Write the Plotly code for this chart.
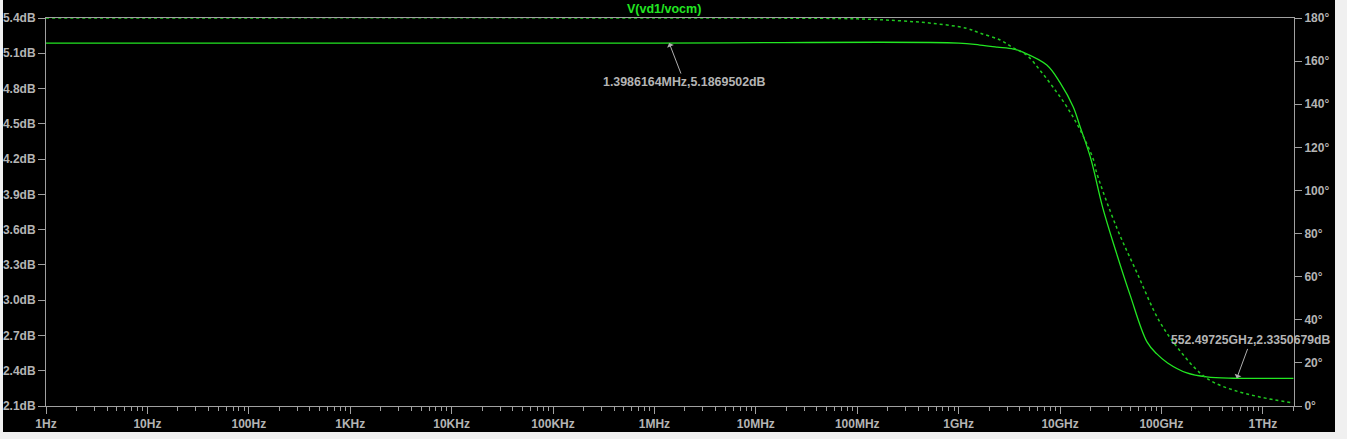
import plotly.graph_objects as go

# ---- data ----
mag_freq = [1, 1e6, 1e9, 1.62e9, 2.4e9, 3.47e9, 4.3e9, 7.4e9, 1.0e10, 1.35e10, 1.58e10,
            2.0e10, 2.63e10, 3.6e10, 4.9e10, 7.2e10, 9.0e10, 1.15e11, 1.78e11, 2.8e11,
            5.1e11, 1e12, 2e12]
mag_db = [5.187, 5.187, 5.187, 5.17, 5.153, 5.136, 5.11, 5.0, 4.85, 4.643, 4.473,
          4.21, 3.79, 3.40, 3.045, 2.645, 2.543, 2.466, 2.381, 2.347,
          2.336, 2.335, 2.335]

ph_freq = [1, 1e6, 1e8, 2.63e8, 5.6e8, 1.2e9, 1.62e9, 2.57e9, 3.47e9, 4.68e9, 6.3e9,
           8.5e9, 1.17e10, 1.58e10, 2.14e10, 2.3e10, 3.6e10, 5.75e10, 9.5e10, 1.5e11,
           2.4e11, 3.24e11, 5.1e11, 9.3e11, 2e12]
ph_deg = [180, 180, 179.6, 178.7, 177.5, 175.2, 173.0, 169.8, 166.1, 162.8, 155.9,
          148.0, 138.7, 128.0, 114.1, 108.1, 83.0, 61.7, 39.5, 26.0,
          15.3, 11.1, 7.4, 4.2, 1.4]

x_tickvals = [1, 10, 100, 1e3, 1e4, 1e5, 1e6, 1e7, 1e8, 1e9, 1e10, 1e11, 1e12]
x_ticktext = ["1Hz", "10Hz", "100Hz", "1KHz", "10KHz", "100KHz", "1MHz", "10MHz",
              "100MHz", "1GHz", "10GHz", "100GHz", "1THz"]
y_tickvals = [2.1, 2.4, 2.7, 3.0, 3.3, 3.6, 3.9, 4.2, 4.5, 4.8, 5.1, 5.4]
y_ticktext = ["2.1dB", "2.4dB", "2.7dB", "3.0dB", "3.3dB", "3.6dB", "3.9dB", "4.2dB",
              "4.5dB", "4.8dB", "5.1dB", "5.4dB"]
y2_tickvals = [0, 20, 40, 60, 80, 100, 120, 140, 160, 180]
y2_ticktext = ["0°", "20°", "40°", "60°", "80°", "100°", "120°", "140°", "160°", "180°"]

cursor1 = (1.3986164e6, 5.1869502, "1.3986164MHz,5.1869502dB")
cursor2 = (552.49725e9, 2.3350679, "552.49725GHz,2.3350679dB")
trace_name = "V(vd1/vocm)"

minor_vals = [m * 10 ** k for k in range(0, 13) for m in range(2, 10) if m * 10 ** k <= 2e12]

AX = "#a0a0a0"
LBL = "#b4b4b4"
FONT = "Liberation Sans"

fig = go.Figure()
fig.add_trace(go.Scatter(x=ph_freq, y=ph_deg, yaxis="y2", mode="lines",
                         line=dict(color="#1fc81f", width=1.5, dash="dot", shape="spline"),
                         showlegend=False, hoverinfo="skip"))
fig.add_trace(go.Scatter(x=mag_freq, y=mag_db, mode="lines",
                         line=dict(color="#22e622", width=1.3, shape="spline"),
                         showlegend=False, hoverinfo="skip"))

fig.update_layout(
    width=1347, height=439,
    margin=dict(l=46, r=53, t=18, b=33, autoexpand=False),
    paper_bgcolor="#f0f0f0", plot_bgcolor="#000000",
    font=dict(family=FONT, size=12, color=LBL),
    xaxis=dict(type="log", range=[0, 12.307], showgrid=False, zeroline=False,
               showline=True, linecolor=AX, linewidth=1, mirror=True,
               ticks="outside", ticklen=7, tickcolor=AX,
               tickmode="array", tickvals=x_tickvals, ticktext=x_ticktext,
               tickfont=dict(family=FONT, size=12, color=LBL, weight="bold"),
               minor=dict(tickmode="array", tickvals=minor_vals, ticks="outside",
                          ticklen=4, tickcolor=AX, showgrid=False)),
    yaxis=dict(range=[2.1, 5.4], showgrid=False, zeroline=False,
               showline=True, linecolor=AX, linewidth=1,
               ticks="outside", ticklen=7, tickcolor=AX,
               tickmode="array", tickvals=y_tickvals, ticktext=y_ticktext,
               tickfont=dict(family=FONT, size=12, color=LBL, weight="bold")),
    yaxis2=dict(range=[0, 180], overlaying="y", side="right", showgrid=False,
                zeroline=False, showline=True, linecolor=AX, linewidth=1,
                ticks="outside", ticklen=7, tickcolor=AX,
                tickmode="array", tickvals=y2_tickvals, ticktext=y2_ticktext,
                tickfont=dict(family=FONT, size=12, color=LBL, weight="bold")),
    shapes=[dict(type="rect", xref="paper", yref="paper", layer="below",
                 x0=(3 - 46) / 1248, x1=(1335 - 46) / 1248,
                 y0=(406 - 432) / 388, y1=(406 + 20) / 388,
                 fillcolor="#000000", line=dict(width=0))],
    annotations=[
        dict(xref="paper", yref="paper", x=(664 - 46) / 1248, y=(406 - 9) / 388,
             text=trace_name, showarrow=False, xanchor="center", yanchor="middle",
             font=dict(family=FONT, size=12.5, color="#22e622", weight="bold")),
        dict(x=6.1457, y=cursor1[1], xref="x", yref="y", text=cursor1[2],
             showarrow=True, arrowhead=1, arrowsize=1.2, arrowwidth=1, arrowcolor="#b0b0b0",
             ax=15, ay=39, font=dict(family=FONT, size=12.4, color=LBL, weight="bold")),
        dict(x=11.7424, y=cursor2[1], xref="x", yref="y", text=cursor2[2],
             showarrow=True, arrowhead=1, arrowsize=1.2, arrowwidth=1, arrowcolor="#b0b0b0",
             ax=14, ay=-38, font=dict(family=FONT, size=12.2, color=LBL, weight="bold")),
    ],
)

fig.write_html("out.html", config={"displayModeBar": False},
               post_script="document.body.style.margin='0';document.body.style.padding='0';")
